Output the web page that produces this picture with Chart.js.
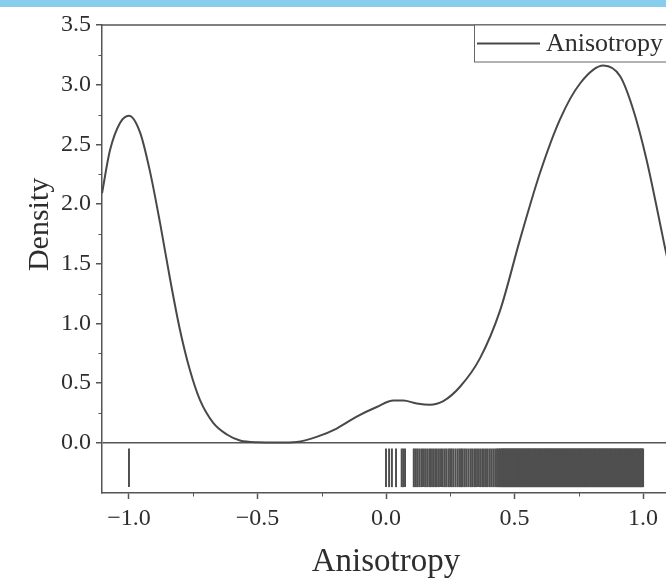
<!DOCTYPE html>
<html><head><meta charset="utf-8">
<script src="https://cdn.jsdelivr.net/npm/chart.js@4/dist/chart.umd.min.js"></script>
<style>
html,body{margin:0;padding:0;overflow:hidden;background:#fff;width:666px;height:581px}
#wrap{position:relative;width:672px;height:581px}
#band{position:absolute;left:0;top:0;width:672px;height:7px;background:#87CDEC;z-index:2}
canvas{display:block}
</style></head><body>
<div id="wrap"><canvas id="c" width="672" height="581"></canvas><div id="band"></div></div>
<script>
// ---- data ----
const seriesName = 'Anisotropy';
const xTitle = 'Anisotropy';
const yTitle = 'Density';

const curveX = [-1.105,-1.074,-1.035,-1.0,-0.957,-0.918,-0.879,-0.840,-0.802,-0.763,-0.724,-0.673,-0.619,-0.568,-0.50,-0.42,-0.347,-0.27,-0.192,-0.114,-0.036,0.029,0.067,0.12,0.171,0.223,0.288,0.366,0.444,0.521,0.599,0.677,0.755,0.846,0.911,0.962,1.014,1.066,1.089,1.105];
const curveY = [2.09,2.45,2.68,2.74,2.60,2.27,1.84,1.37,0.95,0.61,0.36,0.17,0.07,0.02,0.005,0.003,0.008,0.05,0.12,0.22,0.30,0.354,0.354,0.33,0.32,0.35,0.47,0.71,1.11,1.70,2.26,2.71,3.01,3.16,3.07,2.79,2.37,1.84,1.60,1.45];

// rug: isolated and medium-density observations (thin lines)
const rugSparse = [-1.0,
 0.0,0.012,0.023,0.039,0.061,0.067,0.074,
 0.108,0.114,0.121,0.129,0.137,0.144,0.152,0.160,0.168,0.175,0.183,0.191,0.198,0.206,0.214,0.221,0.229,0.236,0.244,0.250,0.256,0.263,0.271,0.279,0.286,0.292,0.298,0.305,0.312,0.320,0.328,0.335,0.343,0.350,0.358,0.366,0.374,0.381,0.389,0.396,0.404,0.411,0.418,0.425,0.432];
// rug: the densely packed observations (solid block)
const rugDense = [0.438,0.446,0.453,0.459,0.466,0.472,0.479,0.485,0.492,0.498,0.505,0.511,0.518,0.524,0.531,0.537,0.544,0.550,0.557,0.563,0.570,0.576,0.583,0.589,0.596,0.602,0.609,0.615,0.622,0.628,0.635,0.641,0.648,0.654,0.661,0.667,0.674,0.680,0.687,0.693,0.700,0.706,0.713,0.719,0.726,0.732,0.739,0.745,0.752,0.758,0.765,0.771,0.778,0.784,0.791,0.797,0.804,0.810,0.817,0.823,0.830,0.836,0.843,0.849,0.856,0.862,0.869,0.875,0.882,0.888,0.895,0.901,0.908,0.914,0.921,0.927,0.934,0.940,0.947,0.953,0.960,0.966,0.973,0.979,0.986,0.993,0.997];
const rugBand = [-0.368, -0.05];

const xRange = [-1.105, 1.105];
const yRange = [-0.42, 3.5];
const xTickValues = [-1.0,-0.5,0.0,0.5,1.0];
const xTickLabels = ['\u22121.0','\u22120.5','0.0','0.5','1.0'];
const xMinorTicks = [-0.75,-0.25,0.25,0.75];
const yTickValues = [0.0,0.5,1.0,1.5,2.0,2.5,3.0,3.5];
const yTickLabels = ['0.0','0.5','1.0','1.5','2.0','2.5','3.0','3.5'];
const yMinorTicks = [0.25,0.75,1.25,1.75,2.25,2.75,3.25];

// ---- styling ----
const FONT = "'Liberation Serif','Times New Roman',serif";
const AX = '#555555';
const TXT = '#2e2e2e';
const LINE = '#484848';
const RUG = '#4f4f4f';

const decor = {
  id: 'decor',
  afterDraw(chart) {
    const ctx = chart.ctx, ca = chart.chartArea;
    const xs = chart.scales.x, ys = chart.scales.y;
    ctx.save();
    ctx.strokeStyle = AX; ctx.lineWidth = 1.5;
    ctx.beginPath();
    ctx.moveTo(ca.left, ca.top); ctx.lineTo(ca.right, ca.top); ctx.lineTo(ca.right, ca.bottom);
    ctx.stroke();
    ctx.lineWidth = 1;
    ctx.beginPath();
    xMinorTicks.forEach(v => { const p = Math.round(xs.getPixelForValue(v)) + 0.5; ctx.moveTo(p, ca.bottom); ctx.lineTo(p, ca.bottom + 3.5); });
    yMinorTicks.forEach(v => { const p = Math.round(ys.getPixelForValue(v)) + 0.5; ctx.moveTo(ca.left, p); ctx.lineTo(ca.left - 3.5, p); });
    ctx.stroke();
    ctx.fillStyle = TXT;
    ctx.font = '30px ' + FONT;
    ctx.textAlign = 'center'; ctx.textBaseline = 'middle';
    ctx.translate(40, ys.getPixelForValue(1.83));
    ctx.rotate(-Math.PI / 2);
    ctx.fillText(yTitle, 0, 0);
    ctx.restore();
    // legend
    ctx.save();
    const ds = chart.data.datasets[2];
    ctx.font = '26px ' + FONT;
    const tw = ctx.measureText(ds.label).width;
    const boxRight = ca.right, top = ca.top, h = 37;
    const tx = boxRight - 7 - tw;
    const lEnd = tx - 6, lStart = lEnd - 63;
    const boxLeft = lStart - 3;
    ctx.fillStyle = '#fff';
    ctx.fillRect(boxLeft, top, boxRight - boxLeft, h);
    ctx.strokeStyle = '#666'; ctx.lineWidth = 1;
    ctx.strokeRect(Math.round(boxLeft) + 0.5, top, boxRight - Math.round(boxLeft), h);
    ctx.strokeStyle = ds.borderColor; ctx.lineWidth = ds.borderWidth;
    ctx.beginPath(); ctx.moveTo(lStart, top + h / 2); ctx.lineTo(lEnd, top + h / 2); ctx.stroke();
    ctx.fillStyle = TXT; ctx.textAlign = 'left'; ctx.textBaseline = 'middle';
    ctx.fillText(ds.label, tx, top + h / 2 + 1);
    ctx.restore();
  }
};

const rugPoints = arr => arr.map(v => ({x: v, y: rugBand}));

new Chart(document.getElementById('c'), {
  type: 'line',
  data: {
    datasets: [
      {
        type: 'bar', label: 'rug', order: 3,
        data: rugPoints(rugSparse),
        backgroundColor: RUG, borderWidth: 0, borderSkipped: false,
        barThickness: 1.3, grouped: false
      },
      {
        type: 'bar', label: 'rug dense', order: 2,
        data: rugPoints(rugDense),
        backgroundColor: RUG, borderWidth: 0, borderSkipped: false,
        barThickness: 3, grouped: false
      },
      {
        type: 'line', label: seriesName, order: 1,
        data: curveX.map((x, i) => ({x: x, y: curveY[i]})),
        borderColor: LINE, borderWidth: 2, pointRadius: 0, fill: false,
        cubicInterpolationMode: 'monotone'
      }
    ]
  },
  options: {
    responsive: false, animation: false,
    layout: {padding: {top: 25, right: 2, left: 0, bottom: 0}},
    plugins: {legend: {display: false}, tooltip: {enabled: false}},
    scales: {
      x: {
        type: 'linear', min: xRange[0], max: xRange[1], offset: false,
        afterFit(s) { s.height = 88; },
        afterBuildTicks(s) { s.ticks = xTickValues.map(v => ({value: v})); },
        ticks: {autoSkip: false, maxRotation: 0, padding: 8, color: TXT,
                font: {family: FONT, size: 24, lineHeight: 1},
                callback: (v, i) => xTickLabels[i]},
        grid: {offset: false, drawOnChartArea: false, drawTicks: true, tickLength: 6, tickColor: AX, tickWidth: 1.5},
        border: {display: true, color: AX, width: 1.5},
        title: {display: true, text: xTitle, color: TXT,
                font: {family: FONT, size: 33, lineHeight: 1}, padding: {top: 0, bottom: 2}}
      },
      y: {
        type: 'linear', min: yRange[0], max: yRange[1],
        afterFit(s) { s.width = 102; },
        afterBuildTicks(s) { s.ticks = yTickValues.map(v => ({value: v})); },
        ticks: {padding: 5, color: TXT, font: {family: FONT, size: 24, lineHeight: 1},
                callback: (v, i) => yTickLabels[i]},
        grid: {drawOnChartArea: true, lineWidth: 1.5,
               color: c => (c.tick && c.tick.value === 0) ? AX : 'rgba(0,0,0,0)',
               drawTicks: true, tickLength: 6, tickColor: AX, tickWidth: 1.5},
        border: {display: true, color: AX, width: 1.5}
      }
    }
  },
  plugins: [decor]
});
</script>
</body></html>
